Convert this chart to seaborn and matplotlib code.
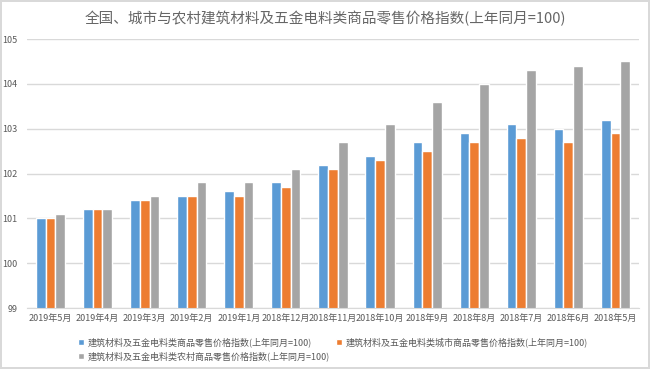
import matplotlib.pyplot as plt
import seaborn as sns
import pandas as pd

months = ['2019年5月', '2019年4月', '2019年3月', '2019年2月', '2019年1月', '2018年12月',
          '2018年11月', '2018年10月', '2018年9月', '2018年8月', '2018年7月', '2018年6月', '2018年5月']
national = [101.0, 101.2, 101.4, 101.5, 101.6, 101.8, 102.2, 102.4, 102.7, 102.9, 103.1, 103.0, 103.2]
urban = [101.0, 101.2, 101.4, 101.5, 101.5, 101.7, 102.1, 102.3, 102.5, 102.7, 102.8, 102.7, 102.9]
rural = [101.1, 101.2, 101.5, 101.8, 101.8, 102.1, 102.7, 103.1, 103.6, 104.0, 104.3, 104.4, 104.5]

series_names = ['建筑材料及五金电料类商品零售价格指数(上年同月=100)',
                '建筑材料及五金电料类城市商品零售价格指数(上年同月=100)',
                '建筑材料及五金电料类农村商品零售价格指数(上年同月=100)']
colors = ['#5b9bd5', '#ed7d31', '#a5a5a5']

df = pd.concat([
    pd.DataFrame({'月份': months, '指数': vals, '系列': name})
    for name, vals in zip(series_names, [national, urban, rural])
])

sns.set_style('white')
plt.rcParams['font.family'] = ['Noto Sans CJK SC', 'DejaVu Sans']

fig = plt.figure(figsize=(6.5, 3.69), dpi=100, edgecolor='#d9d9d9', linewidth=1.5)
ax = fig.add_axes([0.0415, 0.1653, 0.9415, 0.729])

sns.barplot(data=df, x='月份', y='指数', hue='系列', palette=colors, ax=ax,
            width=0.62, saturation=1, edgecolor='white', linewidth=1.0, legend=True)

ax.set_xlim(-0.5, len(months) - 0.5)
ax.set_ylim(99, 105)
ax.set_yticks(range(99, 106))
ax.set_xlabel('')
ax.set_ylabel('')
ax.grid(axis='y', color='#d9d9d9', linewidth=1)
ax.set_axisbelow(True)
for s in ['top', 'right', 'left']:
    ax.spines[s].set_visible(False)
ax.spines['bottom'].set_color('#d9d9d9')
ax.tick_params(axis='y', labelsize=6.5, colors='#595959', length=0, pad=7)
ax.tick_params(axis='x', labelsize=6.5, colors='#595959', length=0, pad=4)

fig.suptitle('全国、城市与农村建筑材料及五金电料类商品零售价格指数(上年同月=100)',
             fontsize=10.5, color='#666666', y=0.97)

handles, labels = ax.get_legend_handles_labels()
ax.get_legend().remove()
order = [0, 2, 1]
fig.legend([handles[i] for i in order], [labels[i] for i in order], ncol=2,
           loc='upper left', bbox_to_anchor=(0.113, 0.098), frameon=False,
           fontsize=6.5, labelcolor='#595959', handlelength=0.7, handleheight=0.7,
           handletextpad=0.4, columnspacing=0.6, labelspacing=0.45, borderpad=0)

fig.savefig('out.png', dpi=100, edgecolor=fig.get_edgecolor())
